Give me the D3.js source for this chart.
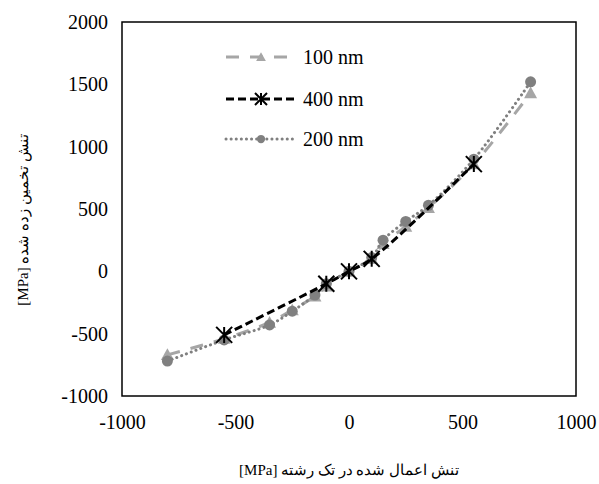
<!DOCTYPE html>
<html><head><meta charset="utf-8">
<script src="https://cdn.jsdelivr.net/npm/d3@7"></script>
<style>body{margin:0;background:#fff}text{font-family:"Liberation Serif","Times New Roman",serif}</style>
</head><body>
<svg id="c" width="599" height="484"></svg>
<script>
const xTicks = [-1000, -500, 0, 500, 1000];
const yTicks = [-1000, -500, 0, 500, 1000, 1500, 2000];
const x100 = [-800, -550, -350, -250, -150, -100, 0, 100, 150, 250, 350, 550, 800];
const y100 = [-670, -540, -410, -310, -200, -120, 0, 100, 220, 360, 510, 860, 1430];
const x400 = [-550, -100, 0, 100, 550];
const y400 = [-510, -100, 0, 100, 860];
const x200 = [-800, -550, -350, -250, -150, -100, 0, 100, 150, 250, 350, 550, 800];
const y200 = [-720, -550, -430, -320, -190, -100, 0, 110, 250, 400, 530, 900, 1520];
const legendNames = ["100 nm", "400 nm", "200 nm"];
const xTitle = "تنش اعمال شده در تک رشته [MPa]";
const yTitle = "تنش تخمین زده شده [MPa]";

const svg = d3.select("#c");
const L = 122, R = 576, T = 22, B = 396;
const x = d3.scaleLinear().domain([-1000, 1000]).range([L, R]);
const y = d3.scaleLinear().domain([-1000, 2000]).range([B, T]);

svg.append("rect").attr("x", L).attr("y", T).attr("width", R - L).attr("height", B - T)
  .attr("fill", "none").attr("stroke", "#000").attr("stroke-width", 1.5);

const fmt = d => String(d);
const xa = svg.append("g").attr("transform", `translate(0,${B})`)
  .call(d3.axisBottom(x).tickValues(xTicks).tickSize(0).tickPadding(19).tickFormat(fmt));
xa.select(".domain").remove();
xa.selectAll("text").attr("font-size", 20).attr("fill", "#000");

const ya = svg.append("g").attr("transform", `translate(${L},0)`)
  .call(d3.axisLeft(y).tickValues(yTicks).tickSize(0).tickPadding(14).tickFormat(fmt));
ya.select(".domain").remove();
ya.selectAll("text").attr("font-size", 20).attr("fill", "#000");

svg.append("text").attr("x", 349).attr("y", 475).attr("text-anchor", "middle")
  .attr("font-size", 15).attr("direction", "rtl").text(xTitle);
svg.append("text").attr("transform", "translate(28,220) rotate(-90)").attr("text-anchor", "middle")
  .attr("font-size", 15).attr("direction", "rtl").text(yTitle);

const line = d3.line().x(d => x(d[0])).y(d => y(d[1])).curve(d3.curveCatmullRom.alpha(0.5));
const zip = (a, b) => a.map((v, i) => [v, b[i]]);

const series = [
  {name: legendNames[0], pts: zip(x100, y100), color: "#A6A6A6", dash: "13,11", cap: "butt", w: 3, marker: "tri"},
  {name: legendNames[2], pts: zip(x200, y200), color: "#808080", dash: "0.1,5", cap: "round", w: 3, marker: "circ"},
  {name: legendNames[1], pts: zip(x400, y400), color: "#000000", dash: "8,4", cap: "butt", w: 3, marker: "star"}
];

function drawMarker(g, type, cx, cy, color, k) {
  k = k || 1;
  if (type === "tri") {
    const a = 6.5 * k;
    g.append("path").attr("d", `M${cx},${cy-a}L${cx+a},${cy+a*0.8}L${cx-a},${cy+a*0.8}Z`).attr("fill", color);
  } else if (type === "circ") {
    g.append("circle").attr("cx", cx).attr("cy", cy).attr("r", 5.5 * k).attr("fill", color);
  } else {
    const s = 8 * k;
    g.append("path").attr("d",
      `M${cx-s},${cy-s}L${cx+s},${cy+s}M${cx+s},${cy-s}L${cx-s},${cy+s}M${cx},${cy-s}L${cx},${cy+s}`)
      .attr("stroke", color).attr("stroke-width", 2).attr("fill", "none");
  }
}

series.forEach(s => {
  svg.append("path").datum(s.pts).attr("d", line).attr("fill", "none")
    .attr("stroke", s.color).attr("stroke-width", s.w).attr("stroke-dasharray", s.dash)
    .attr("stroke-linecap", s.cap);
  const g = svg.append("g");
  s.pts.forEach(p => drawMarker(g, s.marker, x(p[0]), y(p[1]), s.color));
});

// legend
const legendOrder = [series[0], series[2], series[1]];
const ly = [57, 99, 139];
legendOrder.forEach((s, i) => {
  const g = svg.append("g");
  g.append("line").attr("x1", 226).attr("x2", 296).attr("y1", ly[i]).attr("y2", ly[i])
    .attr("stroke", s.color).attr("stroke-width", s.w).attr("stroke-dasharray", s.dash)
    .attr("stroke-linecap", s.cap);
  drawMarker(g, s.marker, 261, ly[i], s.color, 0.75);
  g.append("text").attr("x", 303).attr("y", ly[i] + 7).attr("font-size", 20).text(s.name);
});
</script>
</body></html>
